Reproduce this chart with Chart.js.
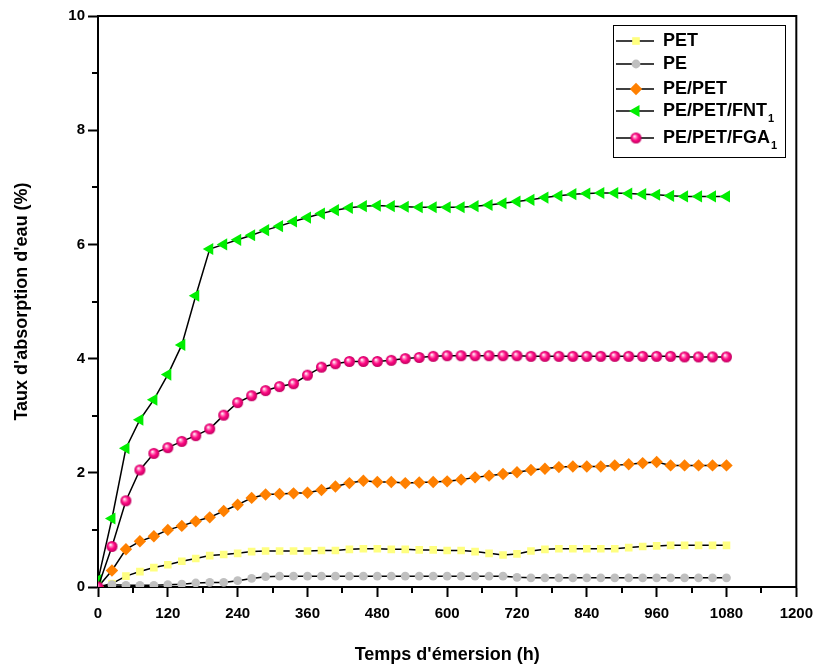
<!DOCTYPE html>
<html>
<head>
<meta charset="utf-8">
<script src="https://cdn.jsdelivr.net/npm/chart.js@4.4.1/dist/chart.umd.min.js"></script>
<style>
html,body{margin:0;padding:0;background:#fff;}
#wrap{width:821px;height:670px;}
</style>
</head>
<body>
<div id="wrap"><canvas id="c" width="821" height="670"></canvas></div>
<script>
// ---- data ----
const hours = [0,24,48,72,96,120,144,168,192,216,240,264,288,312,336,360,384,408,432,456,480,504,528,552,576,600,624,648,672,696,720,744,768,792,816,840,864,888,912,936,960,984,1008,1032,1056,1080];

const seriesNames = ['PET','PE','PE/PET','PE/PET/FNT','PE/PET/FGA'];
const seriesSubs  = ['','','','1','1'];

const PET = [0,0.06,0.19,0.27,0.34,0.39,0.45,0.50,0.55,0.57,0.59,0.62,0.63,0.63,0.63,0.63,0.64,0.64,0.66,0.67,0.67,0.66,0.66,0.65,0.65,0.64,0.64,0.62,0.59,0.56,0.58,0.63,0.66,0.67,0.67,0.67,0.67,0.67,0.69,0.71,0.72,0.73,0.73,0.73,0.73,0.73];
const PE = [0,0.04,0.03,0.03,0.03,0.04,0.05,0.07,0.08,0.08,0.11,0.15,0.18,0.19,0.19,0.19,0.19,0.19,0.19,0.19,0.19,0.19,0.19,0.19,0.19,0.19,0.19,0.19,0.19,0.19,0.17,0.16,0.16,0.16,0.16,0.16,0.16,0.16,0.16,0.16,0.16,0.16,0.16,0.16,0.16,0.16];
const PE_PET = [0,0.29,0.66,0.80,0.89,1.00,1.07,1.15,1.22,1.33,1.44,1.56,1.62,1.63,1.64,1.65,1.70,1.76,1.82,1.86,1.84,1.84,1.82,1.83,1.84,1.85,1.88,1.92,1.95,1.98,2.01,2.05,2.07,2.10,2.11,2.11,2.11,2.13,2.15,2.17,2.19,2.13,2.13,2.13,2.13,2.13];
const PE_PET_FNT1 = [0.12,1.20,2.43,2.93,3.28,3.72,4.24,5.10,5.92,6.00,6.08,6.16,6.25,6.32,6.40,6.47,6.54,6.60,6.64,6.67,6.68,6.67,6.66,6.65,6.65,6.65,6.65,6.67,6.69,6.72,6.75,6.78,6.82,6.85,6.88,6.89,6.90,6.90,6.89,6.88,6.87,6.85,6.84,6.84,6.84,6.84];
const PE_PET_FGA1 = [0,0.71,1.51,2.05,2.34,2.44,2.55,2.65,2.77,3.01,3.23,3.35,3.44,3.51,3.56,3.71,3.85,3.91,3.95,3.95,3.95,3.97,4.00,4.02,4.04,4.05,4.05,4.05,4.05,4.05,4.05,4.04,4.04,4.04,4.04,4.04,4.04,4.04,4.04,4.04,4.04,4.04,4.03,4.03,4.03,4.03];

const xTickValues = [0,120,240,360,480,600,720,840,960,1080,1200];
const xMinorTicks = [60,180,300,420,540,660,780,900,1020,1140];
const yTickValues = [0,2,4,6,8,10];
const yMinorTicks = [1,3,5,7,9];

const xTitle = "Temps d'émersion (h)";
const yTitle = "Taux d'absorption d'eau (%)";

// ---- styles ----
const FONT = '"Liberation Sans", Arial, Helvetica, sans-serif';

function makeSphere(r, base, dark){
  const s = Math.ceil(r*2)+2;
  const cv = document.createElement('canvas');
  cv.width = s; cv.height = s;
  const g = cv.getContext('2d');
  const c = s/2;
  const grad = g.createRadialGradient(c-1.6, c-1.8, 0.3, c, c, r);
  grad.addColorStop(0, '#ffffff');
  grad.addColorStop(0.22, '#ff8cc4');
  grad.addColorStop(0.55, base);
  grad.addColorStop(1, dark);
  g.fillStyle = grad;
  g.beginPath(); g.arc(c, c, r, 0, Math.PI*2); g.fill();
  return cv;
}
const sphere = makeSphere(5.5, '#ff0a84', '#c0005f');

const styles = [
  {color:'#ffff80', pointStyle:'rect', radius:5.4, rotation:0},
  {color:'#c0c0c0', pointStyle:'circle', radius:4.4, rotation:0},
  {color:'#ff8000', pointStyle:'rectRot', radius:6.2, rotation:0},
  {color:'#00ee00', pointStyle:'triangle', radius:7, rotation:-90},
  {color:'#ff0a84', pointStyle:sphere, radius:5.5, rotation:0}
];
const seriesValues = [PET, PE, PE_PET, PE_PET_FNT1, PE_PET_FGA1];

const datasets = seriesValues.map((vals, i) => ({
  label: seriesNames[i] + (seriesSubs[i] ? seriesSubs[i] : ''),
  data: hours.map((h, k) => ({x: h, y: vals[k]})),
  borderColor: '#000',
  borderWidth: 1.5,
  backgroundColor: styles[i].color,
  pointBackgroundColor: styles[i].color,
  pointBorderWidth: 0,
  pointBorderColor: styles[i].color,
  pointStyle: styles[i].pointStyle,
  pointRadius: styles[i].radius,
  pointRotation: styles[i].rotation,
  tension: 0,
  fill: false,
  order: [5,4,3,2,1][i]
}));

function drawMarker(ctx, st, x, y){
  const h = Chart.helpers;
  ctx.save();
  ctx.fillStyle = st.color;
  ctx.strokeStyle = st.color;
  h.drawPoint(ctx, {pointStyle: st.pointStyle, radius: st.radius, rotation: st.rotation, borderWidth: 0}, x, y);
  ctx.restore();
}

const framePlugin = {
  id: 'frame',
  afterDraw(chart){
    const {ctx, chartArea: a, scales: {x, y}} = chart;
    ctx.save();
    ctx.strokeStyle = '#000';
    ctx.lineWidth = 2;
    ctx.beginPath();
    ctx.moveTo(a.left - 1, a.top);
    ctx.lineTo(a.right, a.top);
    ctx.lineTo(a.right, a.bottom + 1);
    ctx.stroke();
    ctx.lineWidth = 2;
    ctx.beginPath();
    xMinorTicks.forEach(v => {
      const px = Math.round(x.getPixelForValue(v));
      ctx.moveTo(px, a.bottom); ctx.lineTo(px, a.bottom + 6);
    });
    yMinorTicks.forEach(v => {
      const py = Math.round(y.getPixelForValue(v));
      ctx.moveTo(a.left, py); ctx.lineTo(a.left - 6, py);
    });
    ctx.stroke();

    // legend
    const L = {left: 613, top: 25, right: 785, bottom: 157};
    ctx.fillStyle = '#fff';
    ctx.fillRect(L.left, L.top, L.right - L.left, L.bottom - L.top);
    ctx.lineWidth = 1;
    ctx.strokeStyle = '#000';
    ctx.strokeRect(L.left + 0.5, L.top + 0.5, L.right - L.left, L.bottom - L.top);
    const rowsY = [41, 64, 89, 111, 138];
    seriesNames.forEach((name, i) => {
      const yy = rowsY[i];
      ctx.strokeStyle = '#000';
      ctx.lineWidth = 1.5;
      ctx.beginPath();
      ctx.moveTo(616, yy); ctx.lineTo(654, yy);
      ctx.stroke();
      drawMarker(ctx, styles[i], 636, yy);
      ctx.fillStyle = '#000';
      ctx.font = 'bold 18px ' + FONT;
      ctx.textBaseline = 'middle';
      ctx.textAlign = 'left';
      ctx.fillText(name, 663, yy);
      if (seriesSubs[i]) {
        const w = ctx.measureText(name).width;
        ctx.font = 'bold 11px ' + FONT;
        ctx.fillText(seriesSubs[i], 663 + w + 1, yy + 8);
      }
    });
    ctx.restore();
  }
};

new Chart(document.getElementById('c'), {
  type: 'line',
  data: {datasets},
  plugins: [framePlugin],
  options: {
    responsive: false,
    animation: false,
    events: [],
    layout: {padding: {left: 0, top: 16, right: 21, bottom: 0}},
    plugins: {legend: {display: false}, tooltip: {enabled: false}, title: {display: false}},
    scales: {
      x: {
        type: 'linear', min: 0, max: 1200,
        afterFit: s => { s.height = 83; },
        afterBuildTicks: s => { s.ticks = xTickValues.map(v => ({value: v})); },
        ticks: {
          font: {family: FONT, size: 15, weight: 'bold'}, color: '#000', padding: 8,
          autoSkip: false, maxRotation: 0, callback: v => String(v)
        },
        grid: {display: true, drawOnChartArea: false, drawTicks: true, tickLength: 10, tickWidth: 2, tickColor: '#000', color: '#000'},
        border: {display: true, color: '#000', width: 2},
        title: {display: true, text: xTitle, font: {family: FONT, size: 18, weight: 'bold'}, color: '#000', padding: {top: 0, bottom: 4}}
      },
      y: {
        type: 'linear', min: 0, max: 10,
        afterFit: s => { s.width = 98; },
        afterBuildTicks: s => { s.ticks = yTickValues.map(v => ({value: v})); },
        ticks: {
          font: {family: FONT, size: 15, weight: 'bold'}, color: '#000', padding: 3,
          autoSkip: false, callback: v => String(v)
        },
        grid: {display: true, drawOnChartArea: false, drawTicks: true, tickLength: 10, tickWidth: 2, tickColor: '#000', color: '#000'},
        border: {display: true, color: '#000', width: 2},
        title: {display: true, text: yTitle, font: {family: FONT, size: 18, weight: 'bold'}, color: '#000', padding: {top: 11, bottom: 0}}
      }
    }
  }
});
</script>
</body>
</html>
